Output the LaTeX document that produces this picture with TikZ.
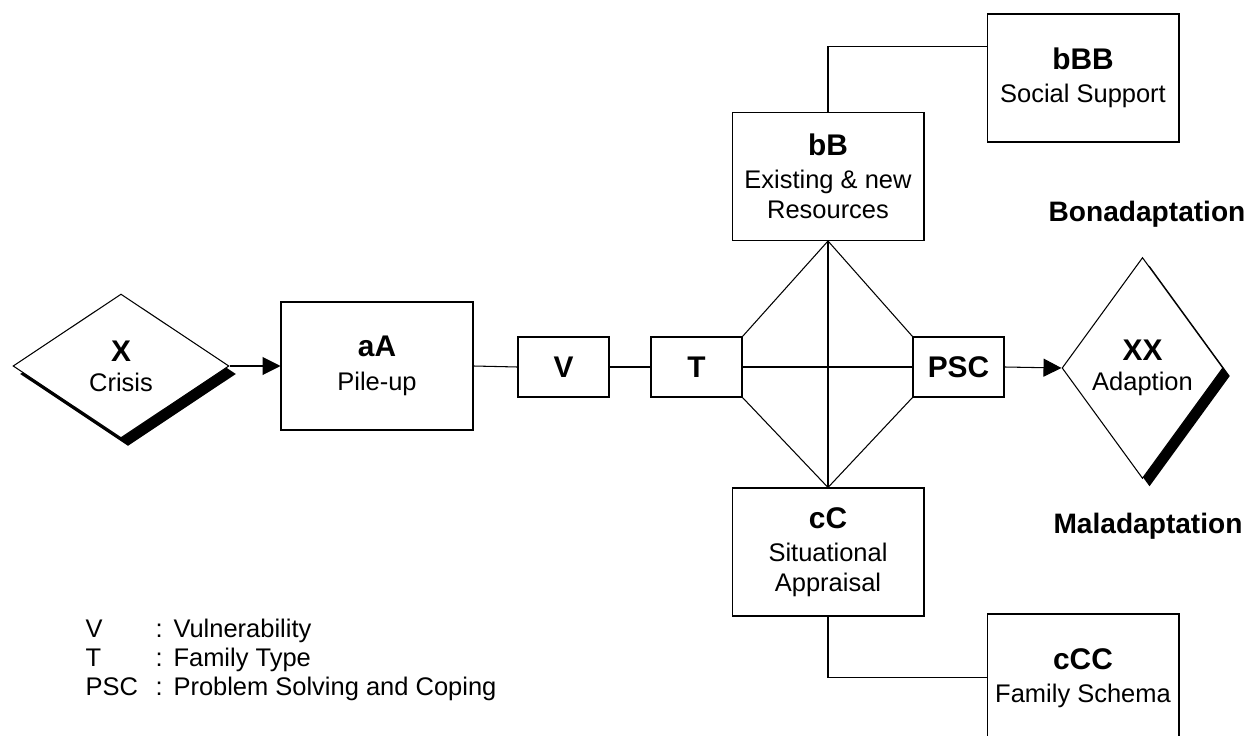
\documentclass[tikz,border=0pt]{standalone}
\usepackage{fontspec}
\setmainfont{Liberation Sans}
\usetikzlibrary{arrows.meta, calc, shapes.geometric, shadows}
\newcommand{\headfont}{\bfseries\fontsize{17}{20}\selectfont}

\begin{document}
\begin{tikzpicture}[x=0.02cm, y=-0.02cm, >={Triangle[length=3.6mm, width=3.6mm]}, line width=0.6pt,
  every node/.style={font=\fontsize{14.5}{17}\selectfont},
  bigbox/.style={draw, align=center, minimum width=3.84cm, minimum height=2.56cm, inner sep=0pt},
  smallbox/.style={draw, align=center, minimum width=1.82cm, minimum height=1.2cm, inner sep=0pt, font=\headfont},
  shadowed/.style={draw, fill=white, diamond, shape aspect=#1, inner sep=0pt, align=center,
    drop shadow={shadow xshift=0.14cm, shadow yshift=-0.16cm, fill=black, opacity=1}}]
  \useasboundingbox (0,0) rectangle (1253,736);
  \node[shadowed=1.5, minimum width=4.32cm, minimum height=2.88cm] (crisis) at (121,366) {{\headfont X}\\Crisis};
  \node[bigbox] (pileup) at (377,366) {{\headfont aA}\\[2pt]Pile-up};
  \node[smallbox] (vul) at (563.5,367) {V};
  \node[smallbox] (type) at (696.5,367) {T};
  \node[smallbox] (psc) at (958.5,367) {PSC};
  \node[bigbox] (resources) at (828,176.5) {{\headfont bB}\\[2pt]Existing \& new\\Resources};
  \node[bigbox] (appraisal) at (828,552) {{\headfont cC}\\[2pt]Situational\\Appraisal};
  \node[bigbox] (support) at (1083,78) {{\headfont bBB}\\[2pt]Social Support};
  \node[bigbox] (schema) at (1083,678) {{\headfont cCC}\\[2pt]Family Schema};
  \node[shadowed=0.73, minimum width=3.22cm, minimum height=4.42cm] (adaption) at (1142.5,368) {{\headfont XX}\\Adaption};
  \node[font=\bfseries\fontsize{16}{19}\selectfont] (bonad) at (1147,214) {Bonadaptation};
  \node[font=\bfseries\fontsize{16}{19}\selectfont] (malad) at (1148,526) {Maladaptation};
  % legend
  \foreach \abbr/\full/\yy [count=\i] in {V/Vulnerability/637, T/Family Type/666, PSC/Problem Solving and Coping/695} {
    \node[anchor=base west, inner sep=0pt] (abbr\i) at (85,\yy) {\abbr};
    \node[anchor=base west, inner sep=0pt] (colon\i) at (155,\yy) {:};
    \node[anchor=base west, inner sep=0pt] (meaning\i) at (173,\yy) {\full};
  }
  % connectors
  \draw[->] (crisis.east) -- (pileup.west);
  \draw (pileup.east) -- (vul.west);
  \draw (vul) -- (type);
  \draw (type.east) -- (psc.west);
  \draw (type.north east) -- (resources.south) -- (psc.north west);
  \draw (type.south east) -- (appraisal.north) -- (psc.south west);
  \draw (resources.south) -- (appraisal.north);
  \draw[->] (psc.east) -- (adaption.west);
  \draw (resources.north) |- ($(support.north west)+(0,33)$);
  \draw (appraisal.south) |- ($(schema.north west)+(0,64)$);
\end{tikzpicture}
\end{document}
